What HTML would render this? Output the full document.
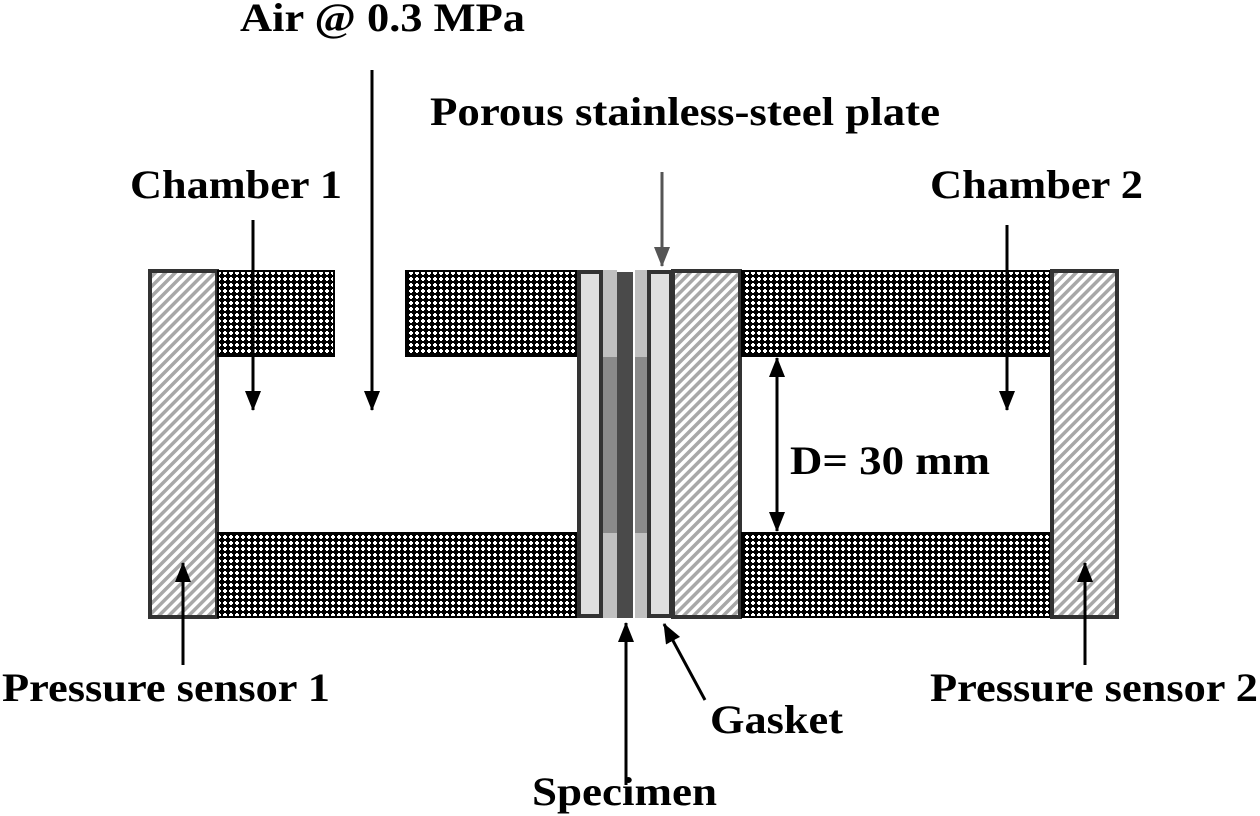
<!DOCTYPE html>
<html><head><meta charset="utf-8"><style>
html,body{margin:0;padding:0;background:#fff;}
svg{display:block;}
text{font-family:"Liberation Serif",serif;font-weight:bold;font-size:40px;fill:#000;}
</style></head><body>
<svg width="1260" height="816" viewBox="0 0 1260 816" xmlns="http://www.w3.org/2000/svg">
<defs>
<pattern id="chk" width="6" height="6" patternUnits="userSpaceOnUse">
<rect width="6" height="6" fill="#000"/>
<rect x="1" y="2" width="4" height="2" fill="#fff"/>
<rect x="2" y="1" width="2" height="4" fill="#fff"/>
</pattern>
<pattern id="hat" width="7" height="7" patternUnits="userSpaceOnUse" patternTransform="rotate(45)">
<rect width="7" height="7" fill="#fff"/>
<rect width="3.5" height="7" fill="#a8a8a8"/>
</pattern>
<marker id="ah" markerWidth="20" markerHeight="16" refX="19" refY="8" orient="auto" markerUnits="userSpaceOnUse">
<path d="M0,0 L20,8 L0,16 z" fill="#000"/>
</marker>
<marker id="ahg" markerWidth="20" markerHeight="16" refX="19" refY="8" orient="auto" markerUnits="userSpaceOnUse">
<path d="M0,0 L20,8 L0,16 z" fill="#555"/>
</marker>
</defs>
<g>
<rect x="150" y="271" width="67" height="346" fill="url(#hat)" stroke="#333" stroke-width="4"/>
<rect x="218" y="271" width="116" height="85" fill="url(#chk)" stroke="#000" stroke-width="2"/>
<rect x="406" y="271" width="172" height="85" fill="url(#chk)" stroke="#000" stroke-width="2"/>
<rect x="218" y="533" width="360" height="84" fill="url(#chk)" stroke="#000" stroke-width="2"/>
<rect x="579" y="272" width="22" height="344" fill="#e0e0e0" stroke="#333" stroke-width="4"/>
<rect x="603" y="270" width="14" height="348" fill="#c0c0c0"/>
<rect x="603" y="357" width="14" height="176" fill="#8a8a8a"/>
<rect x="635" y="270" width="12" height="348" fill="#c0c0c0"/>
<rect x="635" y="357" width="12" height="176" fill="#8a8a8a"/>
<rect x="617" y="272" width="16" height="346" fill="#4a4a4a"/>
<rect x="649" y="272" width="22" height="344" fill="#e0e0e0" stroke="#333" stroke-width="4"/>
<rect x="673" y="271" width="67" height="346" fill="url(#hat)" stroke="#333" stroke-width="4"/>
<rect x="742" y="271" width="308" height="85" fill="url(#chk)" stroke="#000" stroke-width="2"/>
<rect x="742" y="533" width="308" height="84" fill="url(#chk)" stroke="#000" stroke-width="2"/>
<rect x="1052" y="271" width="65" height="346" fill="url(#hat)" stroke="#333" stroke-width="4"/>
</g>
<g stroke="#000" stroke-width="3" fill="none">
<line x1="253" y1="220" x2="253" y2="410" marker-end="url(#ah)"/>
<line x1="372" y1="70" x2="372" y2="410" marker-end="url(#ah)"/>
<line x1="662" y1="172" x2="662" y2="266" stroke="#555" marker-end="url(#ahg)"/>
<line x1="1007" y1="225" x2="1007" y2="410" marker-end="url(#ah)"/>
<line x1="777" y1="440" x2="777" y2="358" marker-end="url(#ah)"/>
<line x1="777" y1="440" x2="777" y2="531" marker-end="url(#ah)"/>
<line x1="183" y1="665" x2="183" y2="563" marker-end="url(#ah)"/>
<line x1="1085" y1="665" x2="1085" y2="563" marker-end="url(#ah)"/>
<line x1="626" y1="785" x2="626" y2="623" marker-end="url(#ah)"/>
<line x1="705" y1="700" x2="664" y2="624" marker-end="url(#ah)"/>
</g>
<text x="240" y="31" textLength="285" lengthAdjust="spacingAndGlyphs">Air @ 0.3 MPa</text>
<text x="430" y="125" textLength="510" lengthAdjust="spacingAndGlyphs">Porous stainless-steel plate</text>
<text x="130" y="198" textLength="212" lengthAdjust="spacingAndGlyphs">Chamber 1</text>
<text x="930" y="198" textLength="213" lengthAdjust="spacingAndGlyphs">Chamber 2</text>
<text x="790" y="474" textLength="200" lengthAdjust="spacingAndGlyphs">D= 30 mm</text>
<text x="2" y="701" textLength="328" lengthAdjust="spacingAndGlyphs">Pressure sensor 1</text>
<text x="930" y="701" textLength="328" lengthAdjust="spacingAndGlyphs">Pressure sensor 2</text>
<text x="710" y="733" textLength="133" lengthAdjust="spacingAndGlyphs">Gasket</text>
<text x="532" y="805" textLength="185" lengthAdjust="spacingAndGlyphs">Specimen</text>
</svg>
</body></html>
